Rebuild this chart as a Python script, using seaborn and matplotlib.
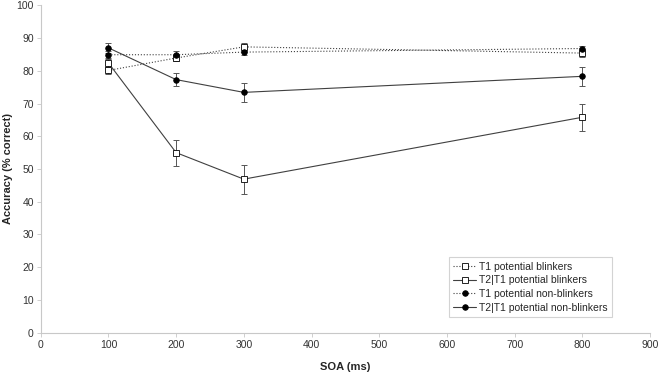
import pandas as pd
import numpy as np
import matplotlib
matplotlib.use('Agg')
import matplotlib.pyplot as plt
import seaborn as sns

# ---- data ----
soa = [100, 200, 300, 800]
t1_blinkers = [80.1, 83.9, 87.3, 85.4]
t1_blinkers_err = [1.2, 1.0, 1.3, 1.2]
t2_blinkers = [82.4, 55.0, 46.9, 65.8]
t2_blinkers_err = [1.3, 4.0, 4.4, 4.1]
t1_nonblinkers = [84.9, 84.9, 85.7, 86.8]
t1_nonblinkers_err = [1.0, 1.2, 1.0, 0.8]
t2_nonblinkers = [87.0, 77.3, 73.4, 78.3]
t2_nonblinkers_err = [1.5, 1.9, 2.9, 2.9]

series = [
    ('T1 potential blinkers', t1_blinkers, t1_blinkers_err, 's', 'white', ':'),
    ('T2|T1 potential blinkers', t2_blinkers, t2_blinkers_err, 's', 'white', '-'),
    ('T1 potential non-blinkers', t1_nonblinkers, t1_nonblinkers_err, 'o', 'black', ':'),
    ('T2|T1 potential non-blinkers', t2_nonblinkers, t2_nonblinkers_err, 'o', 'black', '-'),
]

sns.set_style('white')
plt.rcParams['font.family'] = ['Liberation Sans', 'DejaVu Sans']

fig = plt.figure(figsize=(6.61, 3.72), dpi=100)
ax = fig.add_axes([0.0616, 0.1056, 0.9218, 0.8802])

line_col = '#404040'
for name, vals, err, mk, fc, ls in series:
    df = pd.DataFrame({'SOA': soa, 'acc': vals})
    ax.errorbar(soa, vals, yerr=err, fmt='none', ecolor='#555555',
                elinewidth=0.7, capsize=2, capthick=0.7, zorder=2)
    sns.lineplot(data=df, x='SOA', y='acc', ax=ax, color=line_col,
                 linestyle=ls, linewidth=0.8, marker=mk, markersize=4,
                 markerfacecolor=fc, markeredgecolor='black',
                 markeredgewidth=0.6, label=name, zorder=3)

ax.set_xlim(0, 900)
ax.set_ylim(0, 100)
ax.set_xticks(np.arange(0, 901, 100))
ax.set_yticks(np.arange(0, 101, 10))
ax.tick_params(axis='both', labelsize=7.5, colors='#333333', length=3,
               width=0.6, direction='out', bottom=True, left=True, pad=2)
for s in ['top', 'right']:
    ax.spines[s].set_visible(False)
for s in ['left', 'bottom']:
    ax.spines[s].set_color('#c8c8c8')
    ax.spines[s].set_linewidth(0.8)
ax.tick_params(axis='both', color='#c8c8c8')

ax.set_xlabel('SOA (ms)', fontsize=8, fontweight='bold')
ax.set_ylabel('Accuracy (% correct)', fontsize=8, fontweight='bold')
ax.xaxis.set_label_coords(0.5, -0.09)
ax.yaxis.set_label_coords(-0.046, 0.5)

leg = ax.legend(loc='lower right', bbox_to_anchor=(0.946, 0.033), fontsize=7.5,
                frameon=True, fancybox=False, edgecolor='#c8c8c8',
                handlelength=2.2, borderpad=0.4, labelspacing=0.35,
                handletextpad=0.3)
leg.get_frame().set_linewidth(0.8)

fig.savefig('out.png', dpi=100)
